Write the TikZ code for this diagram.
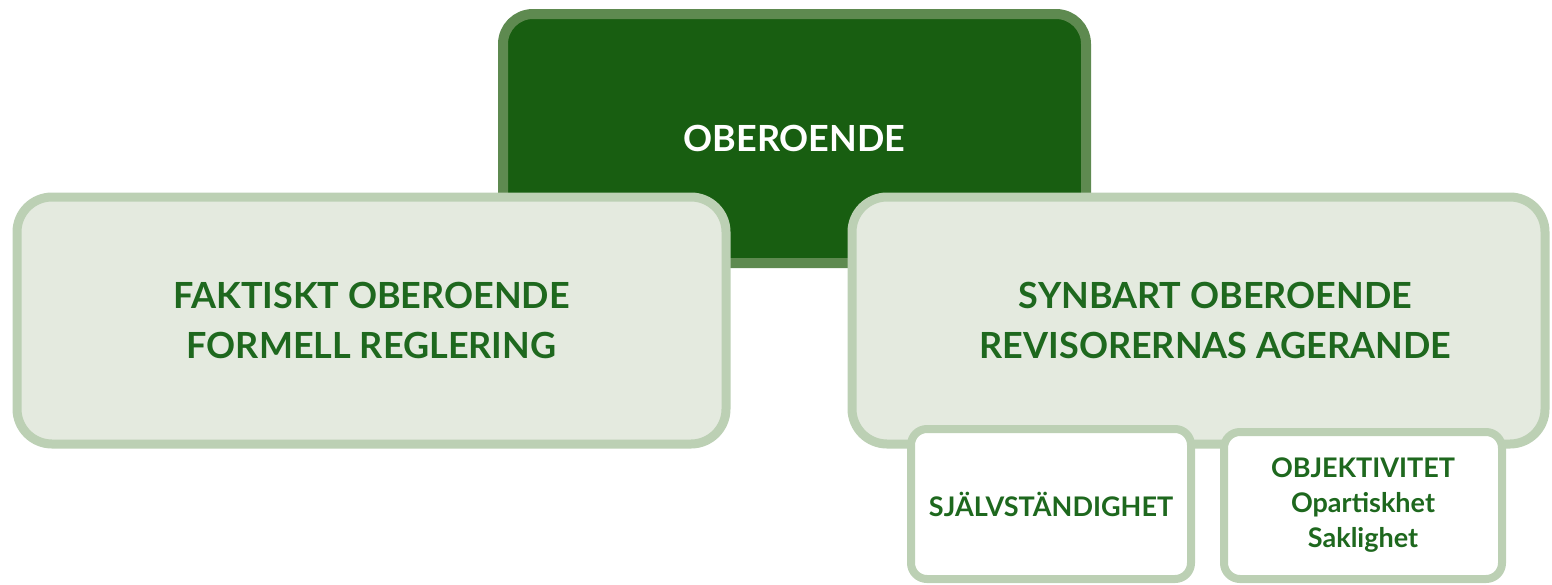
\documentclass[tikz,border=0pt]{standalone}
\usepackage{fontspec}
\setmainfont{Lato}
\definecolor{darkgreen}{RGB}{24,94,17}
\definecolor{midgreen}{RGB}{94,138,80}
\definecolor{palegreen}{RGB}{188,208,180}
\definecolor{palefill}{RGB}{228,234,223}
\definecolor{textgreen}{RGB}{30,104,30}
\begin{document}
\begin{tikzpicture}[x=1pt,y=-1pt,
	topbox/.style={draw=midgreen,fill=darkgreen,line width=10pt,rounded corners=30pt,text=white,
		font=\fontsize{36}{50}\selectfont\bfseries,align=center,inner sep=0pt},
	lightbox/.style={draw=palegreen,fill=palefill,line width=9pt,rounded corners=35pt,text=textgreen,
		font=\fontsize{36}{50}\selectfont\bfseries,align=center,inner sep=0pt},
	smallbox/.style={draw=palegreen,fill=white,line width=8pt,rounded corners=16pt,text=textgreen,
		font=\fontsize{27}{35}\selectfont\bfseries,align=center,inner sep=0pt},
	bigtext/.style={text=textgreen,font=\fontsize{36}{50}\selectfont\bfseries,align=center,inner sep=0pt}]
		\useasboundingbox (0,0) rectangle (1552,584);
		% top
		\node[topbox,minimum width=583pt,minimum height=249pt] (oberoende) at (794.5,138.5) {OBEROENDE};
		% left and right
		\node[lightbox,minimum width=709pt,minimum height=247pt] (faktiskt) at (371.5,320.5) {FAKTISKT OBEROENDE\\FORMELL REGLERING};
		\node[lightbox,minimum width=693pt,minimum height=247pt] (synbart) at (1198.5,320.5) {};
		\node[bigtext] (synbarttext) at ([xshift=17pt]synbart.center) {SYNBART OBEROENDE\\REVISORERNAS AGERANDE};
		% small boxes
		\node[smallbox,minimum width=280pt,minimum height=150pt] (sjalv) at (1051,504) {SJÄLVSTÄNDIGHET};
		\node[smallbox,minimum width=278pt,minimum height=147pt] (objektiv) at (1363,505.5) {OBJEKTIVITET\\Opartiskhet\\Saklighet};
\end{tikzpicture}
\end{document}
